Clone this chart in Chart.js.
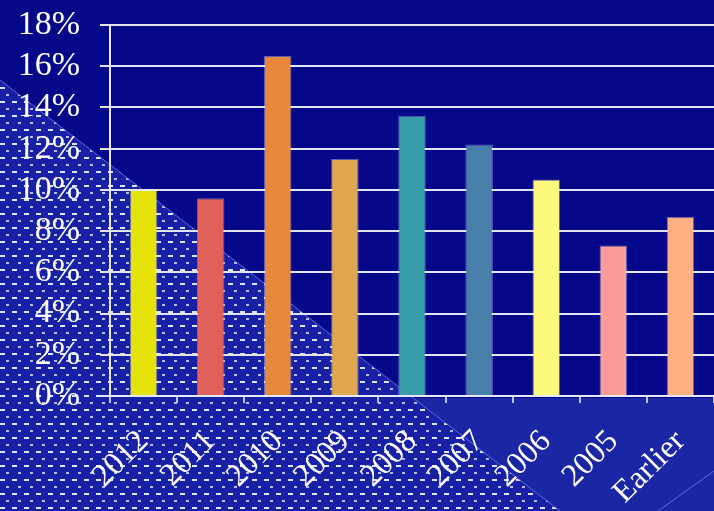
<!DOCTYPE html>
<html>
<head>
<meta charset="utf-8">
<script src="https://cdn.jsdelivr.net/npm/chart.js@4/dist/chart.umd.min.js"></script>
<style>
html,body{margin:0;padding:0;background:#06088a;}
#wrap{width:714px;height:511px;position:relative;}
</style>
</head>
<body>
<div id="wrap"><canvas id="c" width="714" height="511"></canvas></div>
<script>
const categories = ["2012","2011","2010","2009","2008","2007","2006","2005","Earlier"];
const shares = [10.0, 9.6, 16.5, 11.5, 13.6, 12.2, 10.5, 7.3, 8.7];
const barColors = ["#e6e20c","#e0605a","#e8883a","#dea64e","#3a9eaa","#4a7eaa","#fcfa7c","#fc9c98","#fcb084"];
const yTicks = [0,2,4,6,8,10,12,14,16,18];

const backdrop = {
  id: 'backdrop',
  beforeDraw(chart) {
    const ctx = chart.ctx;
    const W = chart.width, H = chart.height;
    const xa = chart.scales.x;
    ctx.save();
    ctx.fillStyle = '#06088a';
    ctx.fillRect(0, 0, W, H);
    const axisY = xa.top;
    ctx.fillStyle = '#1a26a4';
    ctx.fillRect(0, axisY + 2, W, H - axisY - 2);
    const p0 = {x: 0, y: 80}, p1 = {x: 560, y: 511};
    ctx.save();
    ctx.beginPath();
    ctx.moveTo(p0.x, p0.y);
    ctx.lineTo(p1.x, p1.y);
    ctx.lineTo(0, H);
    ctx.closePath();
    ctx.fillStyle = '#1820a6';
    ctx.fill();
    ctx.clip();
    let row = 0;
    for (let y = 3; y < H; y += 7, row++) {
      const off = (row % 2) ? 6 : 0;
      ctx.fillStyle = (row % 2) ? 'rgba(235,240,255,0.75)' : 'rgba(245,248,255,0.9)';
      const w = (row % 2) ? 3 : 5;
      for (let x = -12 + off; x < W; x += 12) {
        ctx.fillRect(Math.round(x), y, w, 2);
      }
    }
    ctx.restore();
    ctx.strokeStyle = 'rgba(120,140,255,0.7)';
    ctx.lineWidth = 1;
    ctx.beginPath();
    ctx.moveTo(p0.x, p0.y); ctx.lineTo(p1.x, p1.y);
    ctx.moveTo(658, 511); ctx.lineTo(714, 471);
    ctx.stroke();
    ctx.restore();
  }
};

new Chart(document.getElementById('c'), {
  type: 'bar',
  data: {
    labels: categories,
    datasets: [{
      data: shares,
      backgroundColor: barColors,
      borderColor: 'rgba(255,255,255,0.35)',
      borderWidth: 1,
      categoryPercentage: 1,
      barPercentage: 0.41
    }]
  },
  options: {
    responsive: false,
    animation: false,
    devicePixelRatio: 1,
    layout: { padding: { top: 25, right: 0, left: 0, bottom: 0 } },
    plugins: { legend: { display: false }, tooltip: { enabled: false } },
    scales: {
      x: {
        grid: { display: true, drawOnChartArea: false, tickLength: 7, color: '#b8c0ff', lineWidth: 2 },
        border: { display: true, color: '#e8e8f0', width: 2 },
        ticks: {
          color: '#ffffff',
          font: { family: '"Liberation Serif","Times New Roman",serif', size: 32 },
          maxRotation: 45, minRotation: 45, padding: 20, autoSkip: false
        },
        afterFit(s) { s.height = 115; s.paddingLeft = 0; s.paddingRight = 0; }
      },
      y: {
        min: 0, max: 18,
        afterBuildTicks(s) { s.ticks = yTicks.map(v => ({ value: v })); },
        grid: { color: '#e4e4ee', lineWidth: 2, tickLength: 10 },
        border: { display: true, color: '#e8e8f0', width: 2 },
        ticks: {
          color: '#ffffff',
          font: { family: '"Liberation Serif","Times New Roman",serif', size: 34, lineHeight: 1 },
          padding: 20,
          autoSkip: false,
          callback: v => v + '%'
        },
        afterFit(s) { s.width = 110; s.paddingTop = 0; s.paddingBottom = 0; }
      }
    }
  },
  plugins: [backdrop]
});
</script>
</body>
</html>
